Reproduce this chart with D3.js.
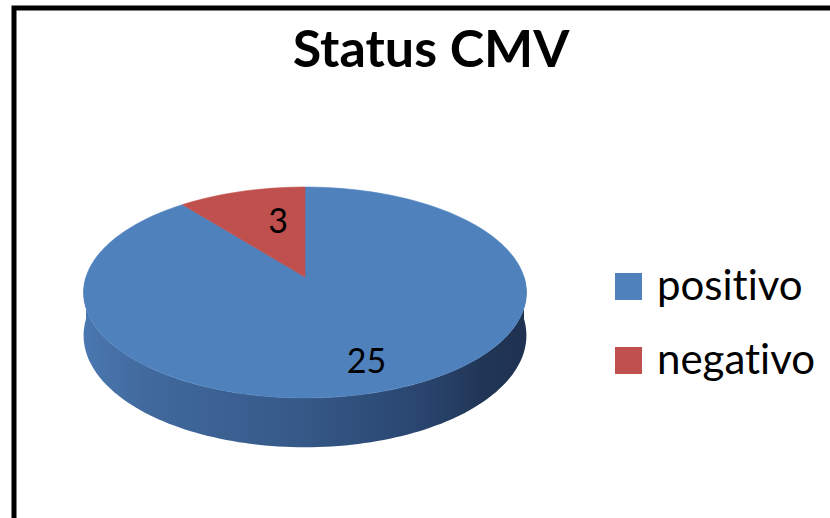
<!DOCTYPE html>
<html>
<head>
<meta charset="utf-8">
<script src="https://cdn.jsdelivr.net/npm/d3@7/dist/d3.min.js"></script>
<style>
  html, body { margin: 0; padding: 0; background: #fff; }
  svg { display: block; }
  text { font-variant-ligatures: none; font-feature-settings: "liga" 0, "clig" 0; }
</style>
</head>
<body>
<svg id="chart" width="830" height="518"></svg>
<script>
// ── DATA ───────────────────────────────────────────────────────────────────
const title      = 'Status CMV';
const categories = ['positivo', 'negativo'];
const values     = [25, 3];
const colors     = ['#4f81bd', '#c0504d'];

// ── SETUP ──────────────────────────────────────────────────────────────────
const svg = d3.select('#chart');
const W = 830, H = 518;

// pie in perspective: centre, radii, perspective strength, thickness
const cx = 305, cy = 277;
const RX = 219, RY = 103.2, K = 0.147, DEPTH = 42;

function project(theta, r, h) {
  const z = r * Math.cos(theta);
  const s = 1 / (1 + K * z);
  return [cx + RX * r * Math.sin(theta) * s, cy - RY * z * s + h * s];
}

const color = d3.scaleOrdinal().domain(categories).range(colors);
const arcs  = d3.pie().sort(null).value(d => d.value)(
  categories.map((c, i) => ({ name: c, value: values[i] }))
);

const defs = svg.append('defs');
const sideGrad = defs.append('linearGradient')
  .attr('id', 'side-blue')
  .attr('gradientUnits', 'userSpaceOnUse')
  .attr('x1', cx - RX * 1.02).attr('x2', cx + RX * 1.02)
  .attr('y1', 0).attr('y2', 0);
[[0, '#4a78b0'], [0.15, '#41699d'], [0.5, '#355887'], [0.75, '#2a4670'], [0.9, '#213656'], [1, '#1f3150']]
  .forEach(([o, c]) => sideGrad.append('stop').attr('offset', o).attr('stop-color', c));

const line = d3.line();
const STEPS = 120;

// ── SIDE (front half only) ─────────────────────────────────────────────────
const g = svg.append('g');
arcs.forEach(a => {
  const t0 = Math.max(a.startAngle, Math.PI / 2);
  const t1 = Math.min(a.endAngle, 3 * Math.PI / 2);
  if (t1 <= t0) return;
  const top = d3.range(STEPS + 1).map(i => t0 + (t1 - t0) * i / STEPS);
  const pts = top.map(t => project(t, 1, 0))
    .concat(top.slice().reverse().map(t => project(t, 1, DEPTH)));
  g.append('path')
    .attr('d', line(pts) + 'Z')
    .attr('fill', a.data.name === categories[0] ? 'url(#side-blue)' : d3.color(color(a.data.name)).darker(1));
});

// ── TOP FACE ───────────────────────────────────────────────────────────────
arcs.forEach(a => {
  const n = Math.max(8, Math.round(STEPS * (a.endAngle - a.startAngle) / Math.PI));
  const pts = [project(0, 0, 0)].concat(
    d3.range(n + 1).map(i => project(a.startAngle + (a.endAngle - a.startAngle) * i / n, 1, 0))
  );
  g.append('path')
    .attr('d', line(pts) + 'Z')
    .attr('fill', color(a.data.name))
    .attr('stroke', color(a.data.name))
    .attr('stroke-width', 0.6);
});

// ── DATA LABELS ────────────────────────────────────────────────────────────
arcs.forEach(a => {
  const small = (a.endAngle - a.startAngle) < Math.PI / 2;
  const mid = (a.startAngle + a.endAngle) / 2 + (small ? 0.12 : 0);
  const [lx, ly] = project(mid, small ? 0.62 : 0.76, 0);
  g.append('text')
    .attr('x', lx).attr('y', ly)
    .attr('text-anchor', 'middle')
    .attr('dominant-baseline', 'central')
    .attr('font-family', 'Lato, sans-serif')
    .attr('font-size', 34)
    .attr('fill', '#000')
    .text(a.data.value);
});

// ── LEGEND ─────────────────────────────────────────────────────────────────
const legendY = d3.scalePoint().domain(categories).range([300, 374]);
const legend = svg.append('g');
categories.forEach(c => {
  legend.append('rect')
    .attr('x', 615).attr('y', legendY(c) - 27)
    .attr('width', 27).attr('height', 27)
    .attr('fill', color(c));
  legend.append('text')
    .attr('x', 657).attr('y', legendY(c))
    .attr('font-family', 'Lato, sans-serif')
    .attr('font-size', 42)
    .attr('fill', '#000')
    .text(c);
});

// ── TITLE ──────────────────────────────────────────────────────────────────
svg.append('text')
  .attr('x', 431).attr('y', 67)
  .attr('text-anchor', 'middle')
  .attr('font-family', 'Lato, sans-serif')
  .attr('font-weight', 'bold')
  .attr('font-size', 52)
  .attr('fill', '#000')
  .text(title);

// ── FRAME ──────────────────────────────────────────────────────────────────
svg.append('rect')
  .attr('x', 14).attr('y', 8)
  .attr('width', W + 40).attr('height', H + 40)
  .attr('fill', 'none')
  .attr('stroke', '#000')
  .attr('stroke-width', 5);
</script>
</body>
</html>
